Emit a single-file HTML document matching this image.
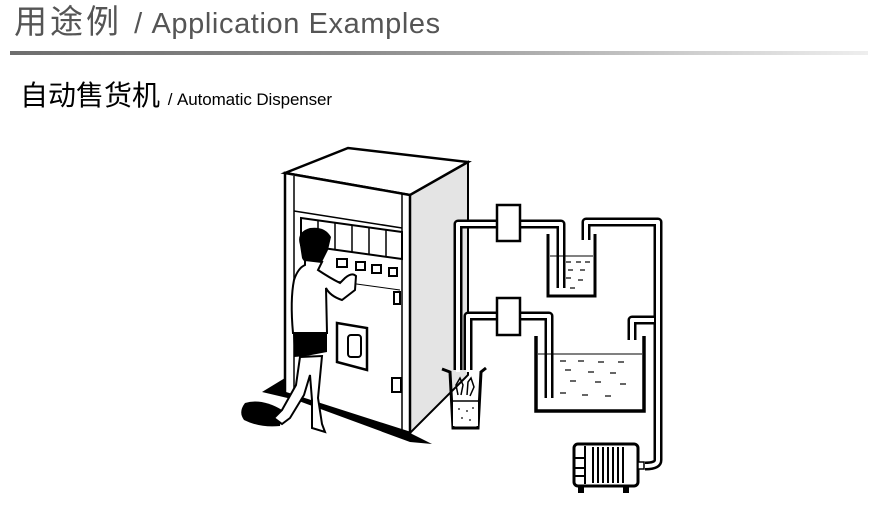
<!DOCTYPE html>
<html><head><meta charset="utf-8"><style>
html,body{margin:0;padding:0;background:#fff;width:876px;height:516px;overflow:hidden;position:relative;font-family:"Liberation Sans","Noto Sans CJK SC",sans-serif}
.t{position:absolute;left:14px;top:-5px;font-size:33px;color:#555;white-space:nowrap;letter-spacing:3px}
.t .e{font-size:29px;letter-spacing:0.6px}
.line{position:absolute;left:10px;top:51px;width:858px;height:4px;background:linear-gradient(to right,#6e6e6e,#8a8a8a 40%,#cfcfcf 80%,#eee)}
.s{position:absolute;left:20px;top:74px;font-size:28px;color:#000;white-space:nowrap}
.s .e{font-size:17px;letter-spacing:-0.1px}
svg{position:absolute;left:0;top:0}
</style></head><body>
<div class="t">用途例 <span class="e">/ Application Examples</span></div>
<div class="line"></div>
<div class="s">自动售货机 <span class="e">/ Automatic Dispenser</span></div>
<svg width="876" height="516" viewBox="0 0 876 516">
<!-- shadow -->
<polygon points="285,378 262,392 296,400 410,442 432,444 410,433 285,393" fill="#000"/>
<path d="M245,403 Q238,412 244,420 Q260,428 280,426 L282,410 Q262,398 245,403Z" fill="#000"/>
<!-- machine side -->
<polygon points="410,195 468,162 468,375 410,433" fill="#e4e4e4" stroke="#000" stroke-width="2"/>
<!-- top -->
<polygon points="285,173 348,148 468,162 410,195" fill="#fff" stroke="#000" stroke-width="2.5"/>
<!-- front -->
<polygon points="285,173 410,195 410,433 285,393" fill="#fff" stroke="#000" stroke-width="2.5"/>
<line x1="294" y1="176" x2="294" y2="396" stroke="#000" stroke-width="1.5"/>
<line x1="402" y1="194" x2="402" y2="430" stroke="#000" stroke-width="1.5"/>
<line x1="294" y1="211" x2="402" y2="228" stroke="#000" stroke-width="1.5"/>
<!-- display panel -->
<polygon points="301,218 402,232 402,259 301,245" fill="#fff" stroke="#000" stroke-width="2"/>
<g stroke="#000" stroke-width="1.5"><line x1="318" y1="220" x2="318" y2="248"/><line x1="335" y1="223" x2="335" y2="250"/><line x1="352" y1="225" x2="352" y2="252"/><line x1="369" y1="227" x2="369" y2="255"/><line x1="386" y1="229" x2="386" y2="257"/></g>
<g fill="#fff" stroke="#000" stroke-width="2"><rect x="337" y="259" width="10" height="8"/><rect x="356" y="262" width="9" height="8"/><rect x="372" y="265" width="9" height="8"/><rect x="389" y="268" width="8" height="8"/></g>
<line x1="320" y1="279" x2="400" y2="290" stroke="#000" stroke-width="1"/>
<rect x="394" y="292" width="6" height="12" fill="#fff" stroke="#000" stroke-width="2"/>
<!-- cup opening -->
<polygon points="337,323 367,328 367,370 337,362" fill="#fff" stroke="#000" stroke-width="2.5"/>
<rect x="348" y="335" width="13" height="22" rx="3" fill="#fff" stroke="#000" stroke-width="2"/>
<rect x="392" y="378" width="9" height="14" fill="#fff" stroke="#000" stroke-width="2"/>
<!-- person -->
<path d="M300,245 Q296,232 310,228 Q325,226 331,237 L328,250 L322,262 Q305,266 302,258Z" fill="#000"/>
<path d="M305,260 L322,262 L318,270 Q330,278 340,283 L345,278 Q352,272 356,276 L355,290 L342,300 Q330,296 326,288 L327,333 L293,333 Q290,300 294,280 Q298,268 305,265Z" fill="#fff" stroke="#000" stroke-width="2"/>
<path d="M293,333 L327,333 L327,352 L306,356 L294,357Z" fill="#000"/>
<path d="M300,357 L296,385 L282,410 L274,418 L282,424 L290,418 L304,395 L310,375 L312,400 L312,428 L325,432 L322,424 L318,398 L322,356Z" fill="#fff" stroke="#000" stroke-width="2"/>
<!-- pipes -->
<g fill="none" stroke="#000" stroke-width="9" stroke-linejoin="round">
<path d="M458,370 L458,224 L561,224 L561,288"/>
<path d="M468,370 L468,316 L549,316 L549,398"/>
<path d="M586,240 L586,222 L658,222 L658,460 Q658,466 645,466"/>
<path d="M632,340 L632,320 L658,320"/>
</g>
<g fill="none" stroke="#fff" stroke-width="4" stroke-linejoin="round">
<path d="M458,372 L458,224 L561,224 L561,289"/>
<path d="M468,372 L468,316 L549,316 L549,399"/>
<path d="M586,245 L586,222 L658,222 L658,460 Q658,466 645,466"/>
<path d="M632,345 L632,320 L654,320"/>
</g>
<!-- valves -->
<rect x="497" y="205" width="23" height="36" fill="#fff" stroke="#000" stroke-width="2.5"/>
<rect x="497" y="298" width="23" height="37" fill="#fff" stroke="#000" stroke-width="2.5"/>
<!-- small tank -->
<path d="M548,234 L548,296 L595,296 L595,234" fill="none" stroke="#000" stroke-width="3"/>
<line x1="550" y1="256" x2="593" y2="256" stroke="#000" stroke-width="1"/>
<g stroke="#000" stroke-width="1.2"><line x1="566" y1="262" x2="571" y2="262"/><line x1="576" y1="262" x2="581" y2="262"/><line x1="585" y1="262" x2="590" y2="262"/><line x1="568" y1="270" x2="573" y2="270"/><line x1="580" y1="270" x2="585" y2="270"/><line x1="566" y1="278" x2="571" y2="278"/><line x1="578" y1="280" x2="583" y2="280"/><line x1="570" y1="288" x2="575" y2="288"/></g>
<!-- big tank -->
<path d="M536,336 L536,411 L644,411 L644,336" fill="none" stroke="#000" stroke-width="3.5"/>
<line x1="538" y1="354" x2="642" y2="354" stroke="#000" stroke-width="1"/>
<g stroke="#000" stroke-width="1.2"><line x1="560" y1="361" x2="566" y2="361"/><line x1="578" y1="361" x2="584" y2="361"/><line x1="598" y1="362" x2="604" y2="362"/><line x1="618" y1="362" x2="624" y2="362"/><line x1="565" y1="370" x2="571" y2="370"/><line x1="588" y1="372" x2="594" y2="372"/><line x1="610" y1="373" x2="616" y2="373"/><line x1="570" y1="381" x2="576" y2="381"/><line x1="595" y1="382" x2="601" y2="382"/><line x1="620" y1="384" x2="626" y2="384"/><line x1="560" y1="393" x2="566" y2="393"/><line x1="582" y1="395" x2="588" y2="395"/><line x1="605" y1="396" x2="611" y2="396"/></g>
<!-- cup -->
<path d="M442,369 L450,372 L453,428 L478,428 L481,372 L486,368" fill="none" stroke="#000" stroke-width="3"/>
<rect x="453" y="402" width="25" height="24" fill="#fff"/>
<line x1="453" y1="401" x2="478" y2="401" stroke="#000" stroke-width="1.5"/>
<g fill="#000"><circle cx="459" cy="409" r="0.9"/><circle cx="467" cy="411" r="0.9"/><circle cx="473" cy="408" r="0.9"/><circle cx="462" cy="418" r="0.9"/><circle cx="470" cy="420" r="0.9"/></g>
<path d="M458,395 L456,385 L460,378 L463,385 L461,395 M467,395 L468,382 L471,378 L474,387 L470,396" fill="none" stroke="#000" stroke-width="1.5"/>
<!-- pump -->
<rect x="574" y="444" width="64" height="42" rx="4" fill="#fff" stroke="#000" stroke-width="3"/>
<g stroke="#000" stroke-width="2"><line x1="585" y1="446" x2="585" y2="484"/><line x1="593" y1="447" x2="593" y2="483"/><line x1="598" y1="447" x2="598" y2="483"/><line x1="603" y1="447" x2="603" y2="483"/><line x1="608" y1="447" x2="608" y2="483"/><line x1="613" y1="447" x2="613" y2="483"/><line x1="618" y1="447" x2="618" y2="483"/><line x1="623" y1="447" x2="623" y2="483"/><line x1="575" y1="458" x2="585" y2="458"/><line x1="575" y1="468" x2="585" y2="468"/><line x1="575" y1="476" x2="585" y2="476"/></g>
<rect x="578" y="486" width="6" height="7" fill="#000"/><rect x="623" y="486" width="6" height="7" fill="#000"/>
<rect x="638" y="462" width="6" height="7" fill="#fff" stroke="#000" stroke-width="1.5"/>
</svg>
</body></html>
